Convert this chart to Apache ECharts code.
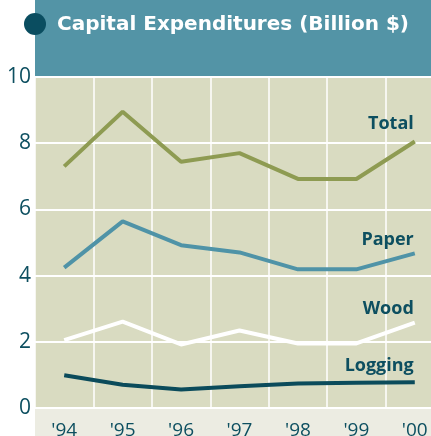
<!DOCTYPE html>
<html>
<head>
<meta charset="utf-8">
<script src="https://cdn.jsdelivr.net/npm/echarts@6/dist/echarts.min.js"></script>
<style>
  html, body { margin: 0; padding: 0; background: #fff; }
  #chart { width: 431px; height: 436px; }
</style>
</head>
<body>
<div id="chart"></div>
<script>
// years on the x axis
var years = ["'94", "'95", "'96", "'97", "'98", "'99", "'00"]
// billion $
var total = [7.3, 8.95, 7.44, 7.7, 6.92, 6.92, 8.05]
var paper = [4.24, 5.64, 4.92, 4.7, 4.19, 4.19, 4.67]
var wood = [2.05, 2.61, 1.92, 2.34, 1.95, 1.95, 2.58]
var logging = [0.99, 0.7, 0.56, 0.66, 0.74, 0.76, 0.78]

var ink = '#0d4f60'

function line(name, data, color, dy) {
  return {
    name: name,
    type: 'line',
    data: data,
    symbol: 'none',
    lineStyle: { color: color, width: 4 },
    // series name written above the last point
    endLabel: {
      show: true,
      formatter: name,
      color: ink,
      fontSize: 18,
      fontWeight: 'bold',
      fontFamily: 'Open Sans',
      align: 'right',
      verticalAlign: 'middle',
      offset: [-9, dy]
    }
  }
}

var chart = echarts.init(document.getElementById('chart'))
chart.setOption({
  animation: false,
  title: {
    text: 'Capital Expenditures (Billion $)',
    left: 52,
    top: 10,
    textStyle: {
      color: '#fff',
      fontSize: 20,
      fontWeight: 'bold',
      fontFamily: 'DejaVu Sans'
    }
  },
  graphic: [
    // banner behind the title
    { type: 'rect', left: 35, top: 0, z: -10, shape: { width: 396, height: 76 }, style: { fill: '#5394a6' } },
    { type: 'circle', left: 24, top: 13, z: -5, shape: { r: 11 }, style: { fill: '#0a4d60' } },
    // light strip under the plot, behind year labels
    { type: 'rect', left: 35, top: 408, z: -10, shape: { width: 396, height: 28 }, style: { fill: '#ecece2' } }
  ],
  grid: {
    left: 35,
    right: -13,
    top: 77,
    bottom: 28,
    outerBoundsMode: 'none',
    show: true,
    backgroundColor: '#d9dbc1',
    borderWidth: 0
  },
  xAxis: {
    type: 'category',
    data: years,
    boundaryGap: true,
    axisLine: { show: false },
    axisTick: { show: false },
    axisLabel: {
      color: ink,
      fontSize: 19,
      fontFamily: 'Open Sans',
      margin: 13
    },
    splitLine: { show: true, lineStyle: { color: '#fff', width: 1.5 } }
  },
  yAxis: {
    type: 'value',
    min: 0,
    max: 10,
    interval: 2,
    axisLine: { show: false },
    axisTick: { show: false },
    axisLabel: {
      color: ink,
      fontSize: 21,
      fontFamily: 'Open Sans',
      margin: 4
    },
    splitLine: { show: true, lineStyle: { color: '#fff', width: 2 } }
  },
  series: [
    line('Total', total, '#8e9b52', -18),
    line('Paper', paper, '#4f93a7', -14),
    line('Wood', wood, '#ffffff', -14),
    line('Logging', logging, '#0b4b5b', -16)
  ]
})
</script>
</body>
</html>
